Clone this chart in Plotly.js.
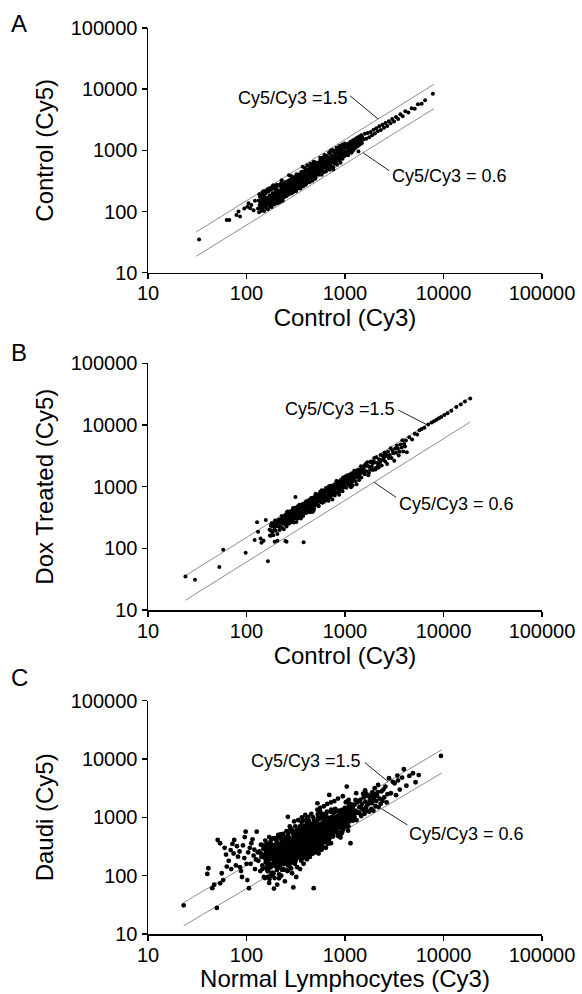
<!DOCTYPE html>
<html>
<head>
<meta charset="utf-8">
<script src="https://cdn.plot.ly/plotly-3.0.1.min.js"></script>
<style>html,body{margin:0;padding:0;background:#fff;}#chart{width:582px;height:994px;}</style>
</head>
<body>
<div id="chart"></div>
<script>
// ---------- shared tick labels / ratio lines ----------
const tickVals = [10, 100, 1000, 10000, 100000];
const tickText = ['10', '100', '1000', '10000', '100000'];
const ratios = [1.5, 0.6];
const ratioLabels = ['Cy5/Cy3 =1.5', 'Cy5/Cy3 = 0.6'];
const panelLetters = ['A', 'B', 'C'];
const xTitles = ['Control (Cy3)', 'Control (Cy3)', 'Normal Lymphocytes (Cy3)'];
const yTitles = ['Control (Cy5)', 'Dox Treated (Cy5)', 'Daudi (Cy5)'];

// ratio line extents (Cy3 values)
const lineXA = [31, 8000];
const lineXB = [24, 18500];
const lineXC = [23, 9600];

// ---------- Panel A: Control (Cy3) vs Control (Cy5) ----------
const xA = [
 33,63,67,79,83,86,95,102,105,109,112,118,122,145,185,228,760,1370,
 131,133,134,136,137,139,140,141,143,144, 146,147,148,150,151,153,154,156,157,159,
 160,162,163,165,166,168,169,171,172,174, 175,177,178,180,181,183,184,186,187,189,
 190,192,193,195,196,198,199,201,203,204, 206,207,209,210,212,214,215,217,219,220,
 222,224,226,227,229,231,233,235,237,239,
 241,243,245,247,249,251,253,255,257,259, 261,263,266,268,270,272,274,277,279,281,
 284,286,288,291,293,296,298,301,303,306, 308,311,313,316,319,321,324,327,330,332,
 335,338,341,344,347,350,353,356,359,362, 365,368,371,375,378,381,384,388,391,394,
 398,401,405,408,412,416,419,423,427,431, 435,439,443,447,451,455,459,463,468,472,
 476,480,485,489,494,498,503,507,512,517, 240,262,289,318,347,376,404,436,466,499,
 522,527,532,537,542,548,553,559,564,570, 575,581,587,593,599,605,611,617,623,629,
 636,642,649,655,662,668,675,682,689,696, 703,710,717,724,732,739,747,754,762,770,
 778,786,794,802,810,819,827,835,844,852, 861,870,879,888,897,906,915,925,934,944,
 953,963,973,983,993,580,640,700,760,830, 900,560,620,690,750,820,880,940,995,720,
 1005,1016,1027,1039,1050,1062,1074,1086,1099,1111, 1124,1137,1150,1163,1177,1191,1205,1219,1233,1248,
 1263,1278,1293,1309,1325,1341,1357,1374,1391,1408, 1426,1444,1462,1480,1500,1540,1590,1640,1700,1760,
 1820,1880,1950,2010,2080,2150,2230,2310,2400,2490, 2580,2680,2790,2900,3020,3150,3300,3460,3650,3850,
 4100,4400,4750,5100,5500,6000,6500,7800,
 152,263,188,415,141,322,207,560,172,287, 690,236,158,372,221,935,178,447,252,614,
 197,338,146,505,275,166,780,229,398,311, 1120,183,430,246,161,655,302,213,855,355,
 270,138,590,194,365,242,1010,169,482,218, 326,206,730,155,280,468,184,1250,258,392,
 174,525,295,148,410,226,620,192,345,880, 248,163,385,212,540,135,305,972,232,445,
 460,199,318,752,176,265,595,143,360,240, 187,640,224,378,157,820,290,510,203,1180
];
const yA = [
 35,73,73,88,100,83,112,120,137,113,128,105,150,205,262,325,485,960,
 112,151,97,128,176,118,141,103,163,130, 189,115,152,137,102,171,125,146,199,114,
 133,168,140,109,157,212,128,149,183,121, 161,138,226,119,172,151,197,133,165,144,
 240,130,181,158,210,139,171,254,148,192, 165,137,223,181,152,200,268,162,143,188,
 214,170,154,241,196,175,150,283,206,179,
 214,262,188,231,303,205,246,180,276,222, 247,199,318,239,212,287,254,196,334,265,
 231,301,214,270,350,243,209,318,277,229, 365,290,248,331,222,300,384,268,240,345,
 296,255,402,317,270,373,239,334,290,421, 317,262,388,341,281,452,350,305,410,272,
 372,331,470,360,298,441,386,317,497,405, 352,462,309,419,371,532,430,358,494,401,
 336,560,455,390,517,432,361,583,470,405, 170,186,199,214,240,258,283,300,318,345,
 540,452,621,498,398,580,506,681,455,598, 530,706,480,622,551,437,668,590,760,520,
 651,574,820,497,695,612,540,772,655,588, 890,612,745,660,540,820,706,632,950,690,
 800,612,880,745,660,1010,780,690,905,1090, 760,830,690,970,812,1120,760,880,1010,730,
 1080,850,950,1190,810,400,450,480,530,580, 630,760,840,920,1010,1100,1180,1250,1300,990,
 920,1130,860,1240,980,1110,830,1300,1040,1180, 960,1380,1090,910,1250,1120,1460,1010,1300,1180,
 1520,1090,1390,1250,1610,1170,1460,1320,1680,1240, 1540,1390,1760,1310,1620,1500,1860,1550,1920,1640,
 2000,1760,2180,1880,2300,2050,2480,2150,2620,2350, 2800,2500,3000,2780,3250,2950,3500,3250,3900,3600,
 4350,4150,4900,4800,5650,5800,6600,8400,
 174,204,197,573,135,405,176,614,127,378, 690,277,141,538,180,1049,174,603,191,628,
 237,308,116,636,281,235,679,251,288,365, 932,241,461,230,222,508,347,208,1052,316,
 390,132,760,165,382,184,1214,158,650,177, 374,160,764,214,267,589,157,1370,191,517,
 174,617,263,214,333,254,606,259,262,900, 298,149,306,267,552,191,266,1065,168,523,
 383,262,341,702,243,206,683,140,443,214, 270,611,289,322,164,622,349,476,274,959
];

// ---------- Panel B: Control (Cy3) vs Dox Treated (Cy5) ----------
const xB = [
 24,30,53,58,98,165,380,128,157,314, 121,142,149,193,248,131,139,206,255,176,
 171,173,176,177,180,183,184,187,189,192, 194,195,198,201,203,206,208,210,213,215,
 217,219,222,225,227,229,232,234,236,239, 241,243,246,248,250,252,255,257,260,262,
 264,266,268,270,272,275,277,279,281,283, 286,288,290,292,295,297,299,302,304,306,
 309,311,314,316,318,321,323,326,328,331, 333,336,338,341,344,346,349,352,354,357,
 360,362,365,368,371,374,376,379,382,385, 388,391,394,397,400,403,406,409,412,415,
 418,421,425,428,431,434,438,441,444,448, 451,454,458,461,465,468,472,475,479,482,
 486,490,493,497,501,270,330,390,450,480,
 505,511,516,522,528,534,540,546,552,558, 564,570,577,583,590,596,603,610,616,623,
 630,637,644,651,659,666,674,681,689,697, 705,713,721,729,737,745,754,762,771,780,
 788,797,806,815,825,834,843,853,863,872, 882,892,902,913,923,933,944,955,966,977,
 988,999,1010,1022,1033,1045,1057,1069,1081,1093, 1106,1118,1131,1144,1157,1170,1183,1197,1210,1224,
 1238,1252,1267,1281,1296,1310,1325,1341,1356,1371, 1387,1403,1419,1435,1452,1468,1485,620,880,1150,
 1520,1552,1585,1619,1653,1688,1724,1760,1797,1835, 1874,1914,1954,1996,2038,2081,2125,2170,2216,2263,
 2311,2360,2410,2461,2513,2566,2620,2676,2732,2790, 2849,2909,2971,3034,3098,3164,3231,3299,3369,3440,
 3513,3587,3663,3741,3820,3901,3983,4068,4154,4242,
 4500,4800,5100,5400,5700,6000,6400,7000,7600,8000, 8500,9000,9500,10200,11000,12000,13500,15000,16500,18700,
 233,412,305,687,268,530,351,910,289,455, 1210,376,598,257,811,443,1530,327,701,488,
 296,965,421,1820,362,640,250,1105,538,392, 758,281,1390,467,335,2150,575,418,860,313,
 505,1290,347,744,243,612,1660,398,1015,274, 432,318,2480,560,370,835,285,1160,478,660,
 342,1440,525,262,935,405,720,300,1750,590, 1060,383,678,292,545,1980,358,790,447,1330,
 255,620,412,1120,308,870,495,2700,366,735, 580,322,1580,440,985,271,705,388,1240,515,
 467,890,330,1680,548,278,765,1025,404,2300, 355,648,1175,297,510,1900,422,820,265,1470,
 730,398,2050,485,315,955,605,1360,375,2600, 285,1090,452,680,1620,340,880,530,1270,415,
 820,475,302,1410,565,2200,360,745,1000,640
];
const yB = [
 35,31,50,95,85,62,126,264,288,678, 136,123,133,128,131,186,145,133,128,160,
 201,161,232,194,254,183,226,163,255,201, 223,282,193,253,228,171,268,225,294,258,
 198,224,293,258,336,219,285,256,318,203, 283,306,246,350,268,325,227,309,272,362,
 296,260,353,332,254,397,318,285,354,310, 336,269,382,320,417,297,368,263,410,320,
 355,449,307,398,357,267,416,349,453,398, 304,344,445,391,509,330,429,386,478,304,
 423,456,365,520,398,482,335,456,400,531, 435,382,519,488,373,582,466,418,519,455,
 491,393,560,469,609,434,539,384,599,469, 518,656,447,580,522,389,608,509,661,579,
 443,501,650,571,741,258,406,427,607,408,
 593,643,516,738,566,688,481,656,578,770, 633,557,760,717,550,861,692,624,776,683,
 740,594,849,714,931,666,829,593,929,730, 809,1030,704,918,827,620,971,817,1064,938,
 719,815,1062,936,1220,796,1037,935,1164,742, 1036,1123,902,1290,989,1202,841,1148,1011,1348,
 1109,976,1331,1257,964,1510,1213,1094,1361,1198, 1300,1043,1491,1254,1635,1170,1455,1043,1632,1282,
 1421,1809,1238,1613,1454,1090,1707,1438,1871,1648, 1265,1435,1870,1647,2148,1402,1827,680,1187,979,
 1786,1954,1585,2288,1772,2174,1536,2116,1881,2532, 2103,1870,2575,2455,1901,3007,2440,2220,2790,2480,
 2715,2202,3176,2697,3551,2566,3223,2331,3686,2921, 3271,4203,2903,3820,3476,2632,4162,3537,4649,4135,
 3204,3669,4828,4295,5650,3726,4899,4459,5604,3610,
 6300,5800,7200,7000,8200,8600,9000,10200,11000,11500, 12200,12800,13500,14500,15500,17000,19500,21500,24000,27000,
 300,403,367,1016,301,715,359,1119,270,643, 1389,496,641,389,811,558,1717,473,669,573,
 390,1058,411,2512,425,947,262,1359,491,505, 758,397,1671,512,484,2053,724,480,1160,336,
 765,1447,479,761,292,571,2188,436,1467,274, 556,311,2981,828,415,1126,292,1427,446,933,
 393,1898,563,397,935,510,808,434,1671,693, 1397,420,662,403,640,2928,375,972,408,1713,
 255,876,495,1228,445,831,623,3100,494,788, 878,361,2180,450,1184,253,929,425,1792,515,
 601,870,397,2485,615,375,783,1261,377,3250, 408,854,1260,450,510,2392,473,1185,253,1727,
 962,436,2003,669,370,1412,633,1673,342,3349, 285,1540,543,745,2341,325,1108,608,1713,445,
 1241,533,417,1442,679,2053,474,817,1445,640
];

// ---------- Panel C: Normal Lymphocytes (Cy3) vs Daudi (Cy5) ----------
const xC = [
 23,40,41,45,51,54,54,58,63,69, 75,82,98,102,106,127,50,47,60,66,
 72,78,85,88,92,95,104,110,115,120, 125,62,70,80,90,100,112,118,56,74,
 86,96,108,122,130,
 132,135,138,140,142,145,148,150,152,155, 157,160,162,164,166,168,170,172,174,176,
 178,180,182,184,186,188,190,192,194,196, 198,200,202,204,206,208,210,212,214,216,
 218,220,222,224,226,228,230,232,234,236, 238,240,242,244,246,248,250,165,185,205,
 225,245,150,175,195,215,235,255,170,190, 140,160,180,200,220,240,145,168,192,212,
 232,252,158,178,198,218,238,258,163,208,
 252,255,258,261,264,267,270,273,276,279, 282,285,288,291,294,297,300,303,306,309,
 312,315,318,321,324,327,330,333,336,339, 342,345,348,351,354,357,360,363,366,369,
 372,375,378,381,384,387,390,393,396,399, 402,406,410,414,418,422,426,430,434,438,
 442,446,450,454,458,462,466,470,474,478, 482,486,490,494,498,260,290,320,350,380,
 410,440,470,500,275,305,335,365,395,425, 455,485,299,481,263,287,313,343,373,403,
 433,463,493,268,296,326,356,386,416,446, 476,272,302,332,362,392,422,452,482,310,
 505,515,525,535,545,555,565,575,585,595, 605,615,625,635,645,655,665,675,685,695,
 705,715,725,735,745,755,765,775,785,795, 805,815,825,835,845,855,865,875,885,895,
 905,915,925,935,945,955,965,975,985,995, 1005,1020,1035,1050,1065,1080,1095,1110,1125,1140,
 1155,1170,1185,1200,525,560,610,660,720,780, 525,692,1042,1137,850,950,640,720,580,540,
 620,680,740,800,860,920,980,1060,1150,900,
 1220,1250,1280,1310,1340,1370,1400,1430,1460,1490, 1520,1550,1580,1610,1640,1670,1700,1730,1760,1790,
 1820,1850,1880,1910,1940,1970,2000,2040,2080,2120, 2168,2200,2250,2300,2350,2400,2450,2500,2573,2650,
 2700,2800,2925,3055,3185,3300,3450,3600,3800,3955, 4200,4500,4900,5200,5600,9420,1300,1600,263,3400,
 153,167,181,196,209,223,238,251,266,281, 296,311,327,342,358,374,389,405,421,437,
 452,468,483,499,515,530,546,562,577,593, 609,624,640,656,671,687,703,718,734,750,
 158,172,186,199,213,228,243,257,272,287, 302,317,332,348,363,379,395,410,426,442,
 457,473,489,504,520,536,551,567,583,598, 614,630,645,661,677,692,708,724,739,755,
 163,177,191,204,218,233,247,262,277,292, 307,322,337,353,368,384,400,415,431,447,
 462,478,494,509,525,541,556,572,588,603, 619,635,650,666,682,697,713,729,744,760,
 205,216,227,239,251,263,276,289,302,315, 328,341,355,369,383,397,411,426,441,456,
 470,485,500,515,530,545,560,575,590,605, 225,247,271,296,322,349,376,405,434,464,
 232,254,278,303,329,356,384,412,441,472, 240,262,287,312,338,365,393,422,452,482,
 216,238,261,285,310,336,363,391,419,449, 520,548,577,606,636,667,699,731,764,798,
 151,176,203,162,231,189,247,157,214,170, 238,195,167,222,183,255,208,160,242,199,
 173,226,154,249,186,211,164,235,193,258, 217,179,244,158,201,229,168,252,190,219,
 185,240,163,207,232,171,253,197,224,180,
 268,412,305,530,347,455,289,381,574,326, 498,276,433,361,589,318,470,283,402,544,
 337,515,292,446,374,560,311,423,262,487, 394,298,538,355,476,271,596,332,441,309,
 279,462,367,582,321,505,388,264,429,348, 552,315,419,286,493,358,448,301,567,384,
 340,479,272,409,523,296,437,365,594,329, 426,266,548,352,457,313,391,507,284,469,
 303,585,371,440,277,519,343,415,260,482, 376,292,533,405,319,463,354,571,287,438,
 612,845,703,1020,658,930,760,615,1075,790, 975,640,880,725,1050,680,905,770,648,990,
 735,1005,622,860,695,1090,812,950,668,1040, 830,605,960,745,1065,690,878,630,1010,795,
 655,915,772,1030,710,850,608,985,740,1085, 700,940,625,1060,805,672,995,760,890,635,
 1045,718,868,612,958,785,1080,645,922,752,
 1120,1480,1250,1890,1160,1620,1330,2050,1210,1760, 1390,1140,1950,1290,1560,1180,2150,1420,1690,1260,
 1530,1830,1100,1350,2000,1450,1190,1700,1280,1600
];
const yC = [
 31,107,134,61,409,360,74,84,143,275, 409,212,569,84,61,569,28,70,300,180,
 350,150,260,120,330,200,250,160,420,280, 190,230,130,320,95,160,360,220,110,240,
 140,460,300,130,250,
 180,260,120,340,210,150,290,95,230,400, 170,280,130,220,350,190,75,250,310,140,
 200,420,160,270,230,110,330,190,250,145, 300,215,380,125,260,175,500,235,90,290,
 200,340,155,270,230,410,185,250,130,310, 220,170,280,360,240,200,450,95,105,70,
 100,80,330,380,440,470,520,580,460,60, 240,200,300,250,270,320,130,165,220,185,
 290,340,240,230,190,240,260,220,310,330,
 260,380,190,300,520,230,150,340,280,420, 200,310,250,600,360,170,290,430,230,330,
 480,260,210,370,300,140,540,320,250,400, 280,350,700,230,450,310,180,380,270,520,
 330,260,420,600,300,370,220,480,350,280, 410,320,800,250,460,370,540,300,650,420,
 350,500,270,440,380,720,320,560,410,480, 360,620,430,300,520,120,110,95,130,160,
 190,210,240,250,700,850,900,1000,1100,1020, 1150,880,63,61,180,240,200,240,200,260,
 280,300,330,330,380,410,420,450,350,610, 650,450,500,560,600,650,700,760,800,160,
 600,420,780,350,520,950,460,680,390,570, 820,480,640,1100,550,740,420,900,620,500,
 780,1250,560,700,880,470,1000,650,760,1400, 600,850,720,1050,560,940,800,1200,680,1000,
 750,1150,880,620,1300,980,800,1100,700,1450, 900,1200,780,1050,1400,950,1250,850,1100,1600,
 1000,1300,900,1500,1350,1450,1550,1700,1800,1900, 1740,2420,3370,360,2100,2300,300,360,280,240,
 700,760,820,880,940,1000,1050,1150,1250,450,
 1100,1650,1300,900,1800,1200,1500,2000,1050,1700, 1350,2200,1150,1860,1500,1300,2400,1700,1250,1950,
 2265,1400,1750,2600,1300,2000,3155,1550,1900,2350, 3600,1500,2100,1700,2800,1900,3000,2200,3365,1800,
 2500,4680,2590,4070,3845,2400,4300,3000,4800,6680, 3500,5130,5700,4000,5300,11300,2600,2900,1023,5200,
 205,318,244,188,276,352,229,301,387,255, 334,268,412,296,458,321,377,505,344,398,
 562,436,478,625,519,701,452,588,664,537, 742,611,816,569,690,887,640,772,703,954,
 262,198,335,226,292,187,255,410,300,228, 281,366,228,317,491,267,346,426,289,522,
 384,505,352,451,592,406,519,377,712,470, 528,668,502,745,588,640,551,836,618,707,
 154,226,171,347,243,205,311,236,171,402, 248,453,297,209,362,238,601,319,214,365,
 297,445,275,367,456,325,628,291,419,394, 473,421,597,451,512,740,483,575,862,601,
 372,140,418,160,456,150,330,170,495,190, 600,205,560,215,640,228,700,240,760,265,
 270,820,300,860,330,950,340,1010,355,1050, 281,225,263,310,282,336,305,358,312,414,
 248,296,238,281,358,301,411,339,366,451, 306,271,341,300,265,412,355,297,480,392,
 226,259,287,245,331,379,258,398,436,352, 482,610,545,668,601,742,620,814,690,880,
 209,99,229,347,202,315,168,189,105,317, 239,289,127,510,113,329,195,320,127,214,
 269,184,91,434,191,474,119,290,91,365, 141,342,281,135,421,126,227,241,309,170,
 435,219,298,144,255,88,384,164,459,109,
 371,232,343,1136,303,757,196,459,282,609, 499,409,329,829,364,411,440,566,211,584,
 523,420,172,777,384,1257,226,522,123,690, 255,569,619,303,997,149,806,318,717,240,
 656,423,670,404,353,260,589,220,878,210, 764,178,472,613,431,596,304,363,279,717,
 341,711,207,940,323,382,409,730,312,353, 662,217,323,614,469,703,284,626,133,664,
 196,1118,427,376,580,286,464,397,423,375, 884,267,973,281,351,238,537,476,588,264,
 771,510,736,1814,573,1344,538,690,591,1252, 931,844,683,1350,694,799,825,1278,373,1013,
 1014,817,392,1302,679,1984,602,1091,351,1309, 561,981,1029,634,1851,416,1080,588,1427,631,
 1248,815,1196,746,743,478,820,820,1257,701, 881,567,654,1885,701,971,704,853,490,1006,
 998,946,674,1140,633,922,985,1071,530,769,
 1515,1418,1019,2678,1247,2636,1217,2471,880,2275, 1187,1692,2246,1264,2425,940,2715,1492,2340,1179,
 2548,1878,1595,1207,2251,1104,1573,1666,1990,1336
];

// ---------- label leader lines (Cy3, Cy5 values): [tail, head] ----------
const leaderA = {up: {x: [1125, 2170], y: [7800, 3255]}, low: {x: [2800, 1524], y: [467, 914]}};
const leaderB = {up: {x: [3475, 6750], y: [17500, 10125]}, low: {x: [3296, 1968], y: [672, 1181]}};
const leaderC = {up: {x: [1597, 2735], y: [8650, 4100]}, low: {x: [4305, 2350], y: [740, 1410]}};
// label anchor points (Cy3, Cy5 values)
const labelPosA = {up: [1125, 7230], low: [2865, 383]};
const labelPosB = {up: [3395, 18150], low: [3395, 524]};
const labelPosC = {up: [1535, 9250], low: [4305, 519]};

const FONT = 'Liberation Sans, Arial, Helvetica, sans-serif';
const panels = [
  {x: xA, y: yA, lineX: lineXA, xa: 'x', ya: 'y', leader: leaderA, lab: labelPosA, size: 4},
  {x: xB, y: yB, lineX: lineXB, xa: 'x2', ya: 'y2', leader: leaderB, lab: labelPosB, size: 4},
  {x: xC, y: yC, lineX: lineXC, xa: 'x3', ya: 'y3', leader: leaderC, lab: labelPosC, size: 4.8}
];

const traces = [];
const annotations = [];
panels.forEach((p, i) => {
  ratios.forEach(r => {
    traces.push({x: p.lineX, y: p.lineX.map(v => v * r), xaxis: p.xa, yaxis: p.ya,
      mode: 'lines', line: {color: '#808080', width: 0.9}, hoverinfo: 'skip'});
  });
  ['up', 'low'].forEach(k => {
    traces.push({x: p.leader[k].x, y: p.leader[k].y, xaxis: p.xa, yaxis: p.ya,
      mode: 'lines', line: {color: '#222', width: 1}, hoverinfo: 'skip'});
  });
  traces.push({x: p.x, y: p.y, xaxis: p.xa, yaxis: p.ya, mode: 'markers',
    marker: {color: '#000', size: p.size, line: {width: 0}}, hoverinfo: 'skip'});
  annotations.push({xref: p.xa, yref: p.ya, x: Math.log10(p.lab.up[0]), y: Math.log10(p.lab.up[1]),
    text: ratioLabels[0], showarrow: false, xanchor: 'right', yanchor: 'middle',
    font: {family: FONT, size: 18, color: '#000'}});
  annotations.push({xref: p.xa, yref: p.ya, x: Math.log10(p.lab.low[0]), y: Math.log10(p.lab.low[1]),
    text: ratioLabels[1], showarrow: false, xanchor: 'left', yanchor: 'middle',
    font: {family: FONT, size: 18, color: '#000'}});
});

// panel letters
const letterY = [24, 352, 677];
letterY.forEach((py, i) => {
  annotations.push({xref: 'paper', yref: 'paper', x: (19 - 148) / 394, y: (934 - py) / 906,
    text: panelLetters[i], showarrow: false, xanchor: 'center', yanchor: 'middle',
    font: {family: FONT, size: 24, color: '#000'}});
});

function xAxis(i, anchor) {
  return {anchor: anchor, domain: [0, 1], type: 'log', range: [1, 5],
    tickvals: tickVals, ticktext: tickText, ticks: 'outside', ticklen: 5, tickwidth: 1.5, tickcolor: '#000',
    ticklabelstandoff: -3,
    showline: true, linewidth: 1.5, linecolor: '#000', showgrid: false, zeroline: false,
    tickfont: {family: FONT, size: 20, color: '#000'},
    title: {text: xTitles[i], font: {family: FONT, size: 24, color: '#000'}, standoff: 0}};
}
function yAxis(i, anchor, dom) {
  return {anchor: anchor, domain: dom, type: 'log', range: [1, 5],
    tickvals: tickVals, ticktext: tickText, ticks: 'outside', ticklen: 5, tickwidth: 1.5, tickcolor: '#000',
    showline: true, linewidth: 1.5, linecolor: '#000', showgrid: false, zeroline: false,
    tickfont: {family: FONT, size: 20, color: '#000'},
    title: {text: yTitles[i], font: {family: FONT, size: 24, color: '#000'}, standoff: 10}};
}

const layout = {
  width: 582, height: 994,
  margin: {l: 148, r: 40, t: 28, b: 60, pad: 0},
  paper_bgcolor: '#fff', plot_bgcolor: '#fff',
  showlegend: false, hovermode: false,
  font: {family: FONT, color: '#000'},
  xaxis: xAxis(0, 'y'), yaxis: yAxis(0, 'x', [0.7299, 1]),
  xaxis2: xAxis(1, 'y2'), yaxis2: yAxis(1, 'x2', [0.3576, 0.6299]),
  xaxis3: xAxis(2, 'y3'), yaxis3: yAxis(2, 'x3', [0, 0.2575]),
  annotations: annotations
};

Plotly.newPlot('chart', traces, layout, {staticPlot: true, displayModeBar: false});
</script>
</body>
</html>
